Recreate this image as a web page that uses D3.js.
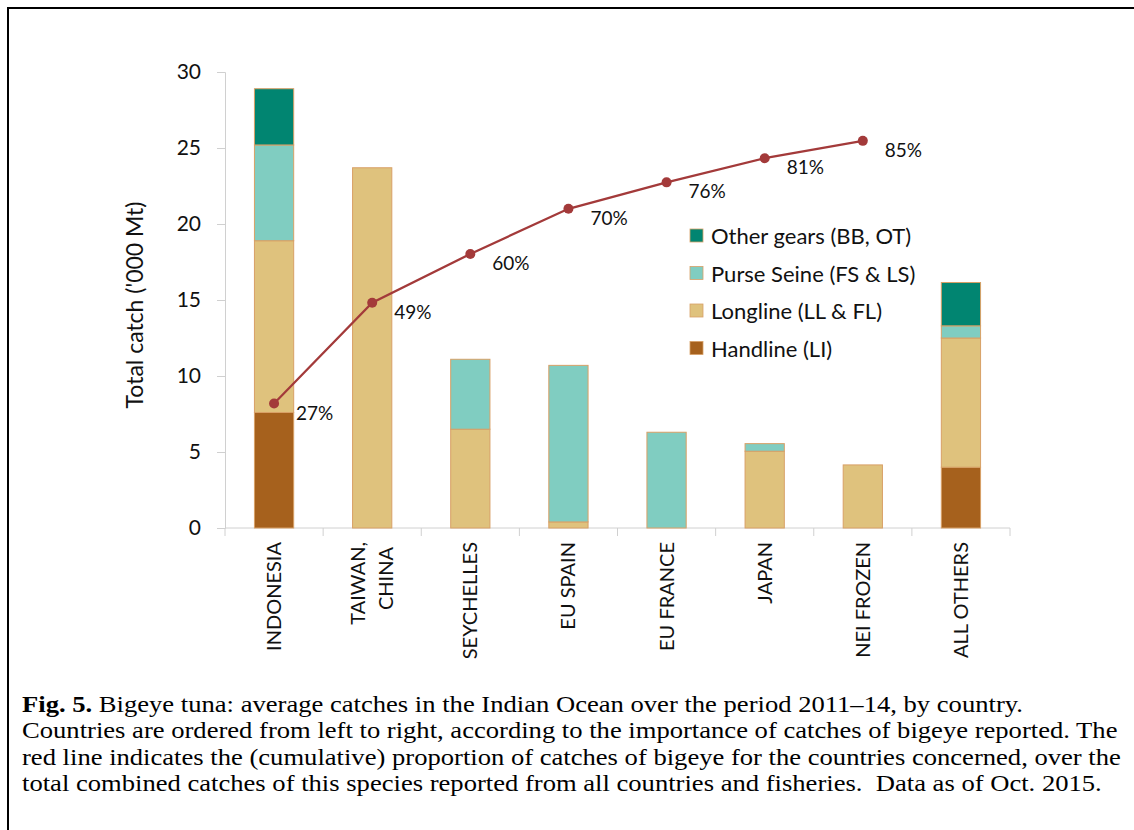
<!DOCTYPE html>
<html>
<head>
<meta charset="utf-8">
<script src="https://cdn.jsdelivr.net/npm/d3@7"></script>
<style>
  html, body { margin: 0; padding: 0; background: #fff; }
  svg { display: block; }
</style>
</head>
<body>
<div id="chart"></div>
<script>
  // Bigeye tuna catches by country, stacked by gear ('000 t)
  const countries = ['INDONESIA', 'TAIWAN,\nCHINA', 'SEYCHELLES', 'EU SPAIN', 'EU FRANCE', 'JAPAN', 'NEI FROZEN', 'ALL OTHERS'];
  const handline = [7.6, 0, 0, 0, 0, 0, 0, 4.0];
  const longline = [11.3, 23.7, 6.5, 0.4, 0, 5.05, 4.15, 8.5];
  const purseSeine = [6.3, 0, 4.6, 10.3, 6.3, 0.5, 0, 0.8];
  const otherGears = [3.7, 0, 0, 0, 0, 0, 0, 2.85];
  // cumulative share of total catch (%), no point for "all others"
  const cumulative = [27.3, 49.4, 60.1, 70.0, 75.8, 81.1, 84.9];
  const yTicks = [0, 5, 10, 15, 20, 25, 30];

  const seriesKeys = ['handline', 'longline', 'purseSeine', 'otherGears'];
  const seriesLabels = {
    otherGears: 'Other gears (BB, OT)',
    purseSeine: 'Purse Seine (FS & LS)',
    longline: 'Longline (LL & FL)',
    handline: 'Handline (LI)'
  };
  const colors = {
    handline: '#a6611d',
    longline: '#dfc27d',
    purseSeine: '#80cdc1',
    otherGears: '#018571'
  };

  const captionLines = [
    [{ b: true, t: 'Fig. 5.' }, { t: ' Bigeye tuna: average catches in the Indian Ocean over the period 2011\u201314, by country.' }],
    [{ t: 'Countries are ordered from left to right, according to the importance of catches of bigeye reported. The' }],
    [{ t: 'red line indicates the (cumulative) proportion of catches of bigeye for the countries concerned, over the' }],
    [{ t: 'total combined catches of this species reported from all countries and fisheries.  Data as of Oct. 2015.' }]
  ];

  const W = 1134, H = 830;
  const plot = { left: 225, right: 1010, top: 72, bottom: 528 };
  const FONT = 'Lato, "Open Sans", sans-serif';

  const rows = countries.map((c, i) => ({
    country: c,
    handline: handline[i],
    longline: longline[i],
    purseSeine: purseSeine[i],
    otherGears: otherGears[i]
  }));

  const svg = d3.select('#chart').append('svg')
    .attr('width', W).attr('height', H)
    .attr('viewBox', `0 0 ${W} ${H}`);

  svg.append('rect').attr('width', W).attr('height', H).attr('fill', '#fff');

  // figure frame (top and left edges only visible)
  svg.append('line').attr('x1', 7).attr('x2', W).attr('y1', 8).attr('y2', 8)
    .attr('stroke', '#000').attr('stroke-width', 2);
  svg.append('line').attr('x1', 8).attr('x2', 8).attr('y1', 7).attr('y2', H)
    .attr('stroke', '#000').attr('stroke-width', 2);

  const x = d3.scaleBand()
    .domain(countries)
    .range([plot.left, plot.right])
    .paddingInner(0.6)
    .paddingOuter(0.3);

  const y = d3.scaleLinear().domain([0, 30]).range([plot.bottom, plot.top]);
  const yPct = d3.scaleLinear().domain([0, 100]).range([plot.bottom, plot.top]);

  // y axis
  const yAxis = svg.append('g')
    .attr('transform', `translate(${plot.left},0)`)
    .call(d3.axisLeft(y).tickValues(yTicks).tickSize(8).tickPadding(16));
  yAxis.select('.domain').attr('stroke', '#d0d0d0');
  yAxis.selectAll('.tick line').attr('stroke', '#d0d0d0');
  yAxis.selectAll('.tick text')
    .attr('font-family', FONT).attr('font-size', 21).attr('fill', '#111');

  // x axis: ticks at the category boundaries
  const step = x.step();
  const boundaries = d3.range(countries.length + 1).map(i => plot.left + i * step);
  const xg = svg.append('g');
  xg.append('line')
    .attr('x1', plot.left).attr('x2', plot.right)
    .attr('y1', plot.bottom).attr('y2', plot.bottom)
    .attr('stroke', '#d0d0d0');
  xg.selectAll('line.tk').data(boundaries).enter().append('line')
    .attr('class', 'tk')
    .attr('x1', d => d).attr('x2', d => d)
    .attr('y1', plot.bottom).attr('y2', plot.bottom + 8)
    .attr('stroke', '#d0d0d0');

  // category labels, rotated
  countries.forEach(c => {
    const lines = c.split('\n');
    const cx = x(c) + x.bandwidth() / 2;
    const lh = 28;
    lines.forEach((ln, j) => {
      const off = (j - (lines.length - 1) / 2) * lh;
      svg.append('text')
        .attr('transform', `translate(${cx + off + 7},${plot.bottom + 14 + j * 5}) rotate(-90)`)
        .attr('text-anchor', 'end')
        .attr('font-family', FONT).attr('font-size', 20).attr('fill', '#111')
        .text(ln);
    });
  });

  // axis title
  svg.append('text')
    .attr('transform', `translate(143,305) rotate(-90)`)
    .attr('text-anchor', 'middle')
    .attr('font-family', FONT).attr('font-size', 23).attr('fill', '#111')
    .text("Total catch ('000 Mt)");

  // stacked bars
  const stack = d3.stack().keys(seriesKeys)(rows);
  svg.append('g').selectAll('g').data(stack).enter().append('g')
    .attr('fill', d => colors[d.key])
    .selectAll('rect').data(d => d.filter(s => s[1] - s[0] > 0)).enter().append('rect')
    .attr('x', d => x(d.data.country))
    .attr('width', x.bandwidth())
    .attr('y', d => y(d[1]))
    .attr('height', d => y(d[0]) - y(d[1]))
    .attr('stroke', '#d8a066')
    .attr('stroke-width', 1);

  // cumulative line
  const linePts = cumulative.map((v, i) => ({ c: countries[i], v }));
  const line = d3.line()
    .x(d => x(d.c) + x.bandwidth() / 2)
    .y(d => yPct(d.v));
  svg.append('path').datum(linePts)
    .attr('d', line)
    .attr('fill', 'none')
    .attr('stroke', '#a33a3a')
    .attr('stroke-width', 2.25);
  svg.append('g').selectAll('circle').data(linePts).enter().append('circle')
    .attr('cx', d => x(d.c) + x.bandwidth() / 2)
    .attr('cy', d => yPct(d.v))
    .attr('r', 5)
    .attr('fill', '#a33a3a');
  svg.append('g').selectAll('text').data(linePts).enter().append('text')
    .attr('x', d => x(d.c) + x.bandwidth() / 2 + 22)
    .attr('y', d => yPct(d.v) + 16)
    .attr('font-family', FONT).attr('font-size', 19).attr('fill', '#111')
    .text(d => Math.round(d.v) + '%');

  // legend
  const legendOrder = ['otherGears', 'purseSeine', 'longline', 'handline'];
  const lg = svg.append('g').attr('transform', 'translate(690,236)');
  legendOrder.forEach((k, i) => {
    const row = lg.append('g').attr('transform', `translate(0,${i * 37.5})`);
    row.append('rect')
      .attr('x', 0).attr('y', -7).attr('width', 13).attr('height', 13)
      .attr('fill', colors[k]).attr('stroke', '#d8a066').attr('stroke-width', 0.8);
    row.append('text')
      .attr('x', 21).attr('y', 8)
      .attr('font-family', FONT).attr('font-size', 22).attr('fill', '#111')
      .text(seriesLabels[k]);
  });

  // caption (the source figure's caption is stretched horizontally)
  const cap = svg.append('g').attr('transform', 'translate(22,0) scale(1.183,1)');
  captionLines.forEach((parts, i) => {
    const t = cap.append('text')
      .attr('x', 0).attr('y', 712 + i * 26.5)
      .attr('xml:space', 'preserve')
      .style('white-space', 'pre')
      .attr('font-family', '"Liberation Serif", "Times New Roman", serif')
      .attr('font-size', 22.5).attr('fill', '#000');
    parts.forEach(p => {
      t.append('tspan').attr('font-weight', p.b ? 'bold' : null).text(p.t);
    });
  });
</script>
</body>
</html>
